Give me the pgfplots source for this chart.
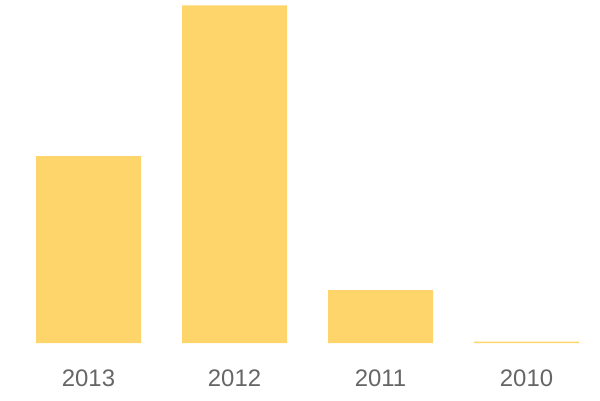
\documentclass[border=0pt]{standalone}
\usepackage{pgfplots}
\pgfplotsset{compat=1.18}
\usepackage{fontspec}
\setmainfont{Liberation Sans}
\definecolor{baryellow}{RGB}{253,213,106}
\definecolor{labelgray}{RGB}{102,102,102}
\begin{document}
\begin{tikzpicture}[x=1bp,y=1bp]
\useasboundingbox (0,-57) rectangle (600,343);
\begin{axis}[
  at={(0,0)}, anchor=south west,
  scale only axis,
  width=600bp, height=343bp,
  xmin=-0.6062, xmax=3.5034,
  ymin=0, ymax=343,
  axis line style={draw=none},
  ytick=\empty,
  xtick={0,1,2,3},
  xticklabels={2013,2012,2011,2010},
  major tick length=0pt,
  xticklabel style={font=\fontsize{24}{24}\selectfont, text=labelgray, yshift=-23bp},
  /pgf/number format/assume math mode=true,
  ybar, bar width=105bp, bar shift=0pt,
  clip=false,
]
\addplot[fill=baryellow, draw=none] coordinates {(0,187) (1,337.5) (2,53) (3,1.5)};
\end{axis}
\end{tikzpicture}
\end{document}
